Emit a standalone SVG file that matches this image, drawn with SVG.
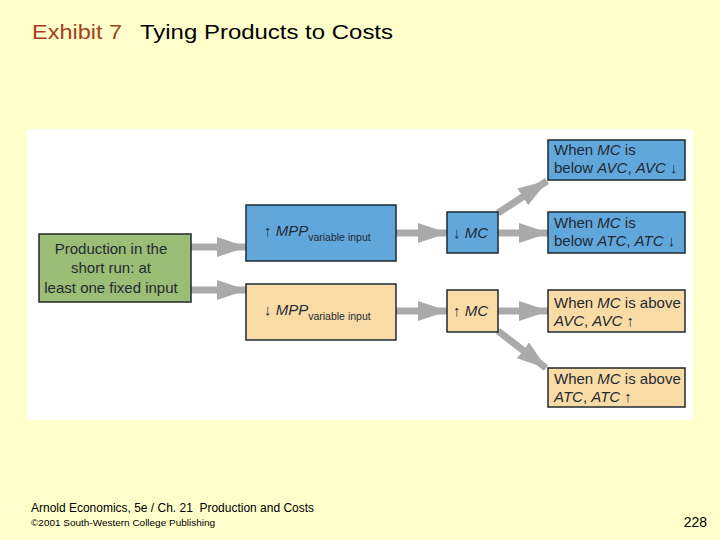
<svg xmlns="http://www.w3.org/2000/svg" width="720" height="540" viewBox="0 0 720 540">
<style>
.box{stroke:#1e2a30;stroke-width:1.5}
.green{fill:#9cbd75}
.blue{fill:#62a7dc}
.tan{fill:#f9dca5}
.t{font-family:"Liberation Sans",Arial,sans-serif;fill:#1f2a33;font-size:15px}
.i{font-style:italic}
.sub{font-size:10.5px}
.conn{stroke:#aaaaaa;stroke-width:7;fill:none}
.f{font-family:"Liberation Sans",Arial,sans-serif;fill:#000}
</style>
<defs>
<marker id="ah" viewBox="0 0 30 20" refX="29" refY="10" markerWidth="30" markerHeight="20" orient="auto" markerUnits="userSpaceOnUse">
<path d="M0,0 L30,10 L0,20 Z" fill="#aaaaaa"/>
</marker>
</defs>
<rect width="720" height="540" fill="#ffffcc"/>
<rect x="27" y="129" width="666" height="291" fill="#ffffff"/>
<text class="f" x="32" y="39" font-size="21" style="fill:#a5401c" textLength="90" lengthAdjust="spacingAndGlyphs">Exhibit 7</text>
<text class="f" x="140" y="39" font-size="21" textLength="253" lengthAdjust="spacingAndGlyphs">Tying Products to Costs</text>
<g id="connectors">
<line class="conn" x1="191" y1="247" x2="246" y2="247" marker-end="url(#ah)"/>
<line class="conn" x1="191" y1="290" x2="246" y2="290" marker-end="url(#ah)"/>
<line class="conn" x1="396" y1="233" x2="447" y2="233" marker-end="url(#ah)"/>
<line class="conn" x1="396" y1="311" x2="447" y2="311" marker-end="url(#ah)"/>
<line class="conn" x1="498" y1="233" x2="548" y2="233" marker-end="url(#ah)"/>
<line class="conn" x1="498" y1="311" x2="548" y2="311" marker-end="url(#ah)"/>
<line class="conn" x1="498" y1="213" x2="547" y2="181" marker-end="url(#ah)"/>
<line class="conn" x1="498" y1="331" x2="546" y2="368" marker-end="url(#ah)"/>
</g>
<g id="production">
<rect class="box green" x="39" y="234" width="152" height="68"/>
<text class="t" x="111" y="254" text-anchor="middle">Production in the</text>
<text class="t" x="111" y="273" text-anchor="middle">short run: at</text>
<text class="t" x="111" y="293" text-anchor="middle">least one fixed input</text>
</g>
<g id="mpp-up">
<rect class="box blue" x="246" y="205" width="150" height="56"/>
<text class="t" x="264" y="236">↑ <tspan class="i">MPP</tspan><tspan class="sub" dy="5">variable input</tspan></text>
</g>
<g id="mpp-down">
<rect class="box tan" x="246" y="284" width="150" height="56"/>
<text class="t" x="264" y="315">↓ <tspan class="i">MPP</tspan><tspan class="sub" dy="5">variable input</tspan></text>
</g>
<g id="mc-down">
<rect class="box blue" x="447" y="212" width="51" height="41"/>
<text class="t" x="453" y="238">↓ <tspan class="i">MC</tspan></text>
</g>
<g id="mc-up">
<rect class="box tan" x="447" y="290" width="51" height="42"/>
<text class="t" x="453" y="316">↑ <tspan class="i">MC</tspan></text>
</g>
<g id="avc-down">
<rect class="box blue" x="548" y="140" width="137" height="40"/>
<text class="t" x="554" y="155">When <tspan class="i">MC</tspan> is</text>
<text class="t" x="554" y="173">below <tspan class="i">AVC</tspan>, <tspan class="i">AVC</tspan> ↓</text>
</g>
<g id="atc-down">
<rect class="box blue" x="548" y="212" width="137" height="41"/>
<text class="t" x="554" y="228">When <tspan class="i">MC</tspan> is</text>
<text class="t" x="554" y="246">below <tspan class="i">ATC</tspan>, <tspan class="i">ATC</tspan> ↓</text>
</g>
<g id="avc-up">
<rect class="box tan" x="548" y="290" width="137" height="42"/>
<text class="t" x="554" y="308">When <tspan class="i">MC</tspan> is above</text>
<text class="t" x="554" y="326"><tspan class="i">AVC</tspan>, <tspan class="i">AVC</tspan> ↑</text>
</g>
<g id="atc-up">
<rect class="box tan" x="548" y="368" width="137" height="39"/>
<text class="t" x="554" y="384">When <tspan class="i">MC</tspan> is above</text>
<text class="t" x="554" y="402"><tspan class="i">ATC</tspan>, <tspan class="i">ATC</tspan> ↑</text>
</g>
<text class="f" x="31" y="512" font-size="12" textLength="283" lengthAdjust="spacingAndGlyphs" xml:space="preserve">Arnold Economics, 5e / Ch. 21  Production and Costs</text>
<text class="f" x="31" y="526" font-size="9.5" textLength="184" lengthAdjust="spacingAndGlyphs">©2001 South-Western College Publishing</text>
<text class="f" x="707" y="527" text-anchor="end" font-size="14">228</text>
</svg>
